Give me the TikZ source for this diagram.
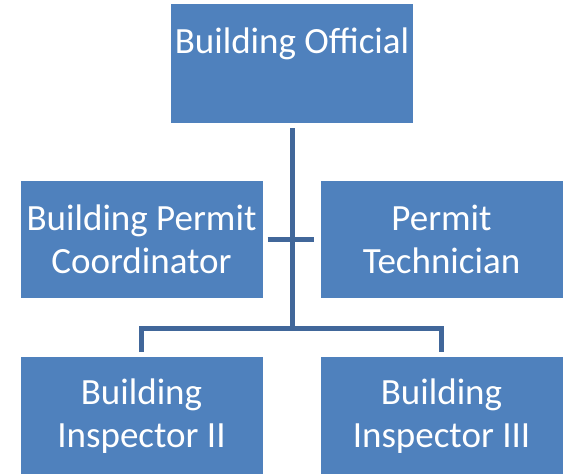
\documentclass[tikz,border=0pt]{standalone}
\usepackage{fontspec}
\setmainfont{Carlito}
\usepackage{tikz}
\usepackage{xcolor}

\definecolor{boxblue}{HTML}{4F81BD}
\definecolor{linkblue}{HTML}{41679A}

\begin{document}
\begin{tikzpicture}[x=1pt, y=-1pt,
  post/.style={fill=boxblue, text=white, inner sep=0pt, minimum width=242pt,
    font=\fontsize{37}{43}\selectfont},
  duo/.style={post, align=center, minimum height=117pt},
  link/.style={draw=linkblue, line width=5pt}]
  \useasboundingbox (0,0) rectangle (565,474);
  % top of the chart
  \node[post, text height=49pt, text depth=70pt, anchor=north] (official) at (292,4) {Building Official};
  % middle row
  \node[duo] (coord) at (141.5,239.5) {Building Permit\\Coordinator};
  \node[duo] (tech) at (441.5,239.5) {Permit\\Technician};
  % bottom row
  \node[duo, anchor=north] (insp2) at (141.5,357) {Building\\Inspector II};
  \node[duo, anchor=north] (insp3) at (441.5,357) {Building\\Inspector III};
  \coordinate (hub) at (292,328);
  \draw[link] ([yshift=-5pt]official.south) -- (hub);
  \draw[link] ([xshift=5pt]coord.east) -- ([xshift=-6pt]tech.west);
  \draw[link] ([yshift=5pt]insp2.north) |- (hub) -| ([yshift=5pt]insp3.north);
\end{tikzpicture}
\end{document}
